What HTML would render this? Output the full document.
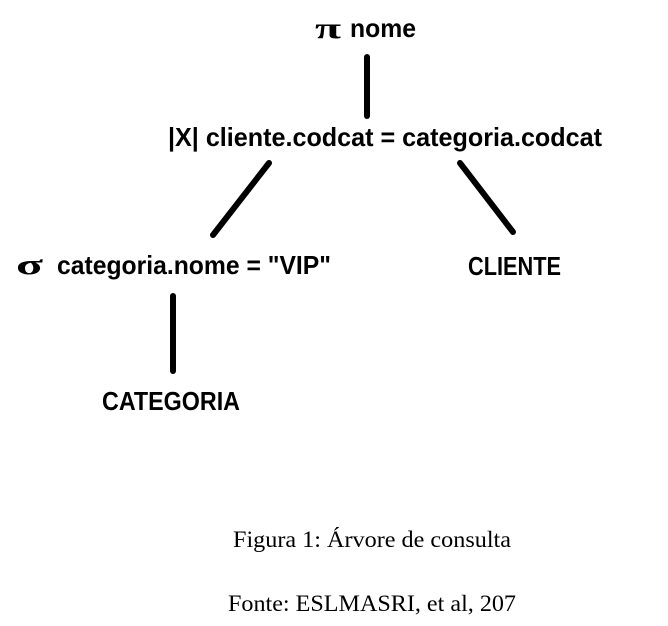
<!DOCTYPE html>
<html><head><style>html,body{margin:0;padding:0;background:#fff;width:668px;height:626px;overflow:hidden}</style></head>
<body>
<svg width="668" height="626" xmlns="http://www.w3.org/2000/svg">
<g stroke="#000" stroke-width="6" stroke-linecap="round">
<line x1="367" y1="57" x2="367" y2="116"/>
<line x1="269" y1="163" x2="213" y2="235"/>
<line x1="460" y1="163" x2="513" y2="232"/>
<line x1="173" y1="296" x2="173" y2="371"/>
</g>
<g font-family="Liberation Sans, sans-serif" font-weight="bold" font-size="26" fill="#000">
<text x="315" y="38" font-family="Liberation Serif, serif" font-size="30" textLength="26" lengthAdjust="spacingAndGlyphs">π</text>
<text x="350" y="37" textLength="66" lengthAdjust="spacingAndGlyphs">nome</text>
<text x="168" y="146" textLength="434" lengthAdjust="spacingAndGlyphs">|X| cliente.codcat = categoria.codcat</text>
<text x="16" y="274" font-family="Liberation Serif, serif" font-size="28" textLength="27" lengthAdjust="spacingAndGlyphs">σ</text>
<text x="57" y="274" textLength="274" lengthAdjust="spacingAndGlyphs">categoria.nome = "VIP"</text>
<text x="468" y="275" textLength="93" lengthAdjust="spacingAndGlyphs">CLIENTE</text>
<text x="102" y="410" textLength="138" lengthAdjust="spacingAndGlyphs">CATEGORIA</text>
</g>
<g font-family="Liberation Serif, serif" font-size="23" fill="#000">
<text x="233" y="547" textLength="278" lengthAdjust="spacingAndGlyphs">Figura 1: Árvore de consulta</text>
<text x="228" y="611" textLength="288" lengthAdjust="spacingAndGlyphs">Fonte: ESLMASRI, et al, 207</text>
</g>
</svg>
</body></html>
